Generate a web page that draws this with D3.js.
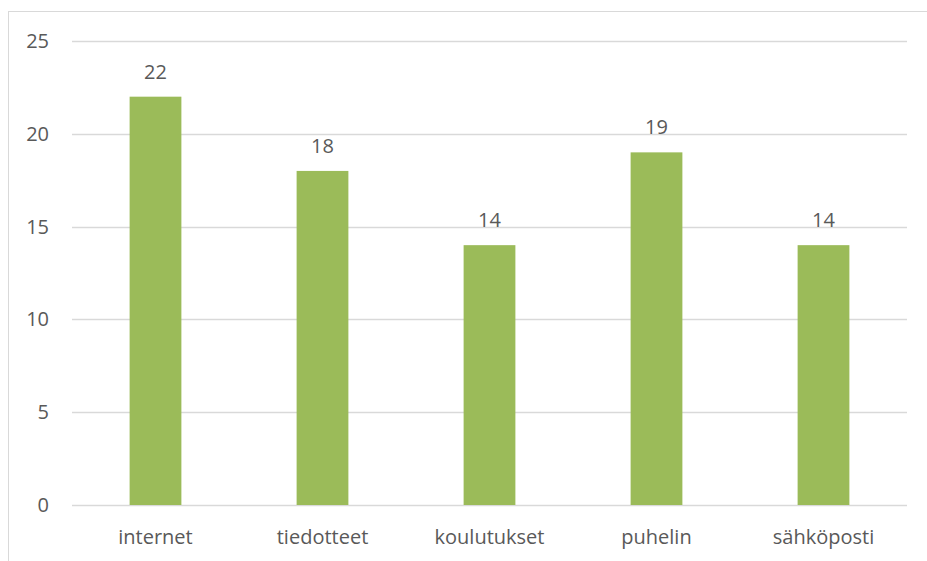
<!DOCTYPE html>
<html>
<head>
<meta charset="utf-8">
<script src="https://cdn.jsdelivr.net/npm/d3@7"></script>
<style>
  body { margin: 0; background: #fff; }
  text { font-family: "Open Sans", "Noto Sans", sans-serif; fill: #595959; }
</style>
</head>
<body>
<svg id="chart"></svg>
<script>
const categories = ['internet', 'tiedotteet', 'koulutukset', 'puhelin', 'sähköposti'];
const values = [22, 18, 14, 19, 14];
const yTicks = [0, 5, 10, 15, 20, 25];

const width = 927, height = 561;
const margin = { top: 41, right: 20, bottom: 56, left: 72 };
const fontSize = '20px';

const svg = d3.select('#chart')
  .attr('width', width)
  .attr('height', height);

// chart frame (runs off the right/bottom edges like the original)
svg.append('rect')
  .attr('x', 8.5).attr('y', 11.5)
  .attr('width', 1000).attr('height', 1000)
  .attr('fill', 'none')
  .attr('stroke', '#d9d9d9');

const x = d3.scaleBand()
  .domain(categories)
  .range([margin.left, width - margin.right])
  .paddingInner(0.69)
  .paddingOuter(0.345);

const y = d3.scaleLinear()
  .domain([0, 25])
  .range([height - margin.bottom, margin.top]);

// gridlines
svg.append('g')
  .selectAll('line')
  .data(yTicks)
  .enter().append('line')
  .attr('x1', margin.left)
  .attr('x2', width - margin.right)
  .attr('y1', d => Math.round(y(d)) + 0.5)
  .attr('y2', d => Math.round(y(d)) + 0.5)
  .attr('stroke', '#d9d9d9')
  .attr('stroke-width', 1.3);

// y labels
svg.append('g')
  .selectAll('text')
  .data(yTicks)
  .enter().append('text')
  .attr('x', 49)
  .attr('y', d => y(d))
  .attr('dy', '0.35em')
  .attr('text-anchor', 'end')
  .attr('font-size', fontSize)
  .text(d => d);

// bars
svg.append('g')
  .selectAll('rect')
  .data(values)
  .enter().append('rect')
  .attr('x', (d, i) => x(categories[i]))
  .attr('width', x.bandwidth())
  .attr('y', d => y(d))
  .attr('height', d => y(0) - y(d))
  .attr('fill', '#9bbb59');

// value labels
svg.append('g')
  .selectAll('text')
  .data(values)
  .enter().append('text')
  .attr('x', (d, i) => x(categories[i]) + x.bandwidth() / 2)
  .attr('y', d => y(d) - 18)
  .attr('text-anchor', 'middle')
  .attr('font-size', fontSize)
  .text(d => d);

// category labels
svg.append('g')
  .selectAll('text')
  .data(categories)
  .enter().append('text')
  .attr('x', d => x(d) + x.bandwidth() / 2)
  .attr('y', height - margin.bottom + 39)
  .attr('text-anchor', 'middle')
  .attr('font-size', fontSize)
  .text(d => d);
</script>
</body>
</html>
